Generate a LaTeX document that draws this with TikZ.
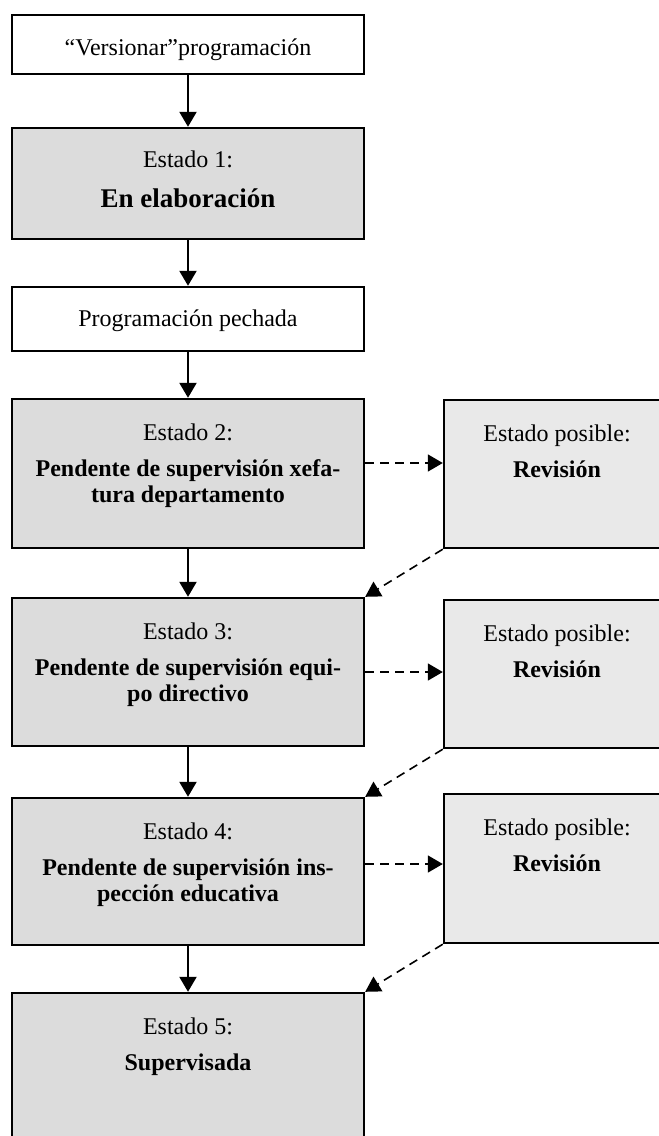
\documentclass[tikz,border=0pt]{standalone}
\usepackage{fontspec}
\setmainfont{Liberation Serif}
\usepackage{xcolor}
\usepackage{tikz}
\usetikzlibrary{arrows.meta}
\usetikzlibrary{positioning}

\definecolor{grisestado}{HTML}{DCDCDC}
\definecolor{grisposible}{HTML}{E9E9E9}

\tikzset{
    caixa/.style={draw, line width=1.2pt, inner sep=0pt, fill=white, minimum width=176pt},
    estado/.style={caixa, fill=grisestado},
    posible/.style={caixa, fill=grisposible, minimum width=113pt},
    texto/.style={align=center, inner sep=0pt, font=\fontsize{12}{13}\selectfont},
    flecha/.style={line width=1.1pt, -{Triangle[length=7.5pt, width=8.5pt]}},
    discont/.style={line width=0.8pt, dash pattern=on 4.5pt off 3pt, -{Triangle[length=7.5pt, width=8.5pt]}},
}

\begin{document}
\begin{tikzpicture}[x=0.5pt, y=-0.5pt]
    \useasboundingbox (0, 0) rectangle (659, 1136);

    % columna principal
    \node[caixa, minimum height=29.5pt] (v0) at (188, 44.5) {};
    \node[estado, minimum height=55.5pt] (e1) at (188, 183.5) {};
    \node[caixa, minimum height=32pt] (p) at (188, 319) {};
    \node[estado, minimum height=74.5pt] (e2) at (188, 473.5) {};
    \node[estado, minimum height=74pt] (e3) at (188, 672) {};
    \node[estado, minimum height=73.5pt] (e4) at (188, 871.5) {};
    \node[estado, minimum height=80pt] (e5) at (188, 1073) {};

    % estados posibles
    \node[posible, minimum height=74pt] (r2) at (557, 474) {};
    \node[posible, minimum height=74pt] (r3) at (557, 674) {};
    \node[posible, minimum height=74.5pt] (r4) at (557, 868.5) {};

    % textos
    \node[texto] (v0t) at (188, 50) {“Versionar”programación};
    \node[texto] (pt) at (188, 321) {Programación pechada};
    \node[texto, anchor=north] (e1t) at ([yshift=-12pt]e1.north) {Estado 1:\\[7pt]{\fontsize{13.5}{13}\selectfont\bfseries En elaboración}};
    \node[texto, anchor=north] (e2t) at ([yshift=-13pt]e2.north) {Estado 2:\\[5pt]\textbf{Pendente de supervisión xefa-}\\\textbf{tura departamento}};
    \node[texto, anchor=north] (e3t) at ([yshift=-13pt]e3.north) {Estado 3:\\[5pt]\textbf{Pendente de supervisión equi-}\\\textbf{po directivo}};
    \node[texto, anchor=north] (e4t) at ([yshift=-13pt]e4.north) {Estado 4:\\[5pt]\textbf{Pendente de supervisión ins-}\\\textbf{pección educativa}};
    \node[texto, anchor=north] (e5t) at ([yshift=-13pt]e5.north) {Estado 5:\\[5pt]\textbf{Supervisada}};
    \foreach \r in {r2, r3, r4} {
        \node[texto, anchor=north] (\r t) at ([yshift=-13pt]\r.north) {Estado posible:\\[5pt]\textbf{Revisión}};
    }

    % frechas
    \foreach \a/\b in {v0/e1, e1/p, p/e2, e2/e3, e3/e4, e4/e5} {
        \draw[flecha] (\a) -- (\b);
    }
    \foreach \a/\b/\d in {e2/r2/5.25pt, e3/r3/0pt, e4/r4/3.75pt} {
        \coordinate (s\a) at ([yshift=\d]\a.east);
        \draw[discont] (s\a) -- (s\a -| \b.west);
    }
    \foreach \a/\b in {r2/e3, r3/e4, r4/e5} {
        \draw[discont] (\a.south west) -- (\b.north east);
    }
\end{tikzpicture}
\end{document}
